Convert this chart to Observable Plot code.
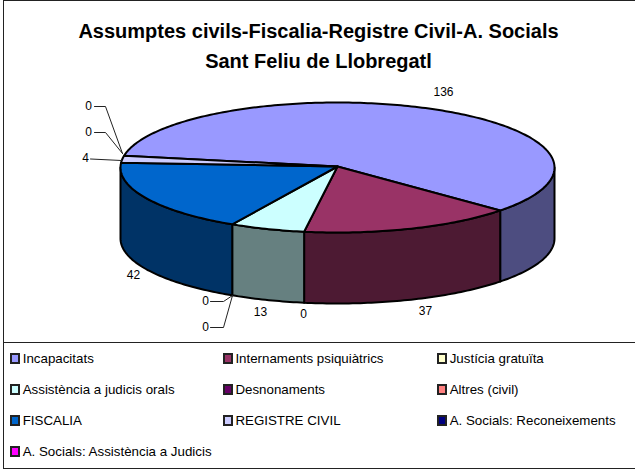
<!DOCTYPE html>
<html>
<head>
<meta charset="utf-8">
<script src="https://cdn.jsdelivr.net/npm/d3@7"></script>
<script src="https://cdn.jsdelivr.net/npm/@observablehq/plot@0.6"></script>
<style>
html,body{margin:0;padding:0;background:#fff;}
#chart{position:relative;width:635px;height:470px;overflow:hidden;font-family:"Liberation Sans",Arial,sans-serif;color:#000;}
#frame{position:absolute;left:3px;top:0;width:660px;height:467px;border:1.5px solid #222;box-sizing:content-box;}
#title{position:absolute;left:0;width:637px;top:16px;text-align:center;font-weight:bold;font-size:20px;line-height:30px;}
#plot{position:absolute;left:0;top:72px;}
#legend{position:absolute;left:3px;top:342px;width:632px;height:126px;border-top:1.5px solid #222;}
.item{position:absolute;height:14px;font-size:13.33px;line-height:14px;white-space:nowrap;}
.sw{position:absolute;box-sizing:border-box;width:10px;height:11px;border:2px solid #222;top:1px;left:0;}
.lb{position:absolute;left:12.7px;top:0;}
</style>
</head>
<body>
<div id="chart">
  <div id="frame"></div>
  <div id="title"></div>
  <div id="plot"></div>
  <div id="legend"></div>
</div>
<script>
const titleLines = ["Assumptes civils-Fiscalia-Registre Civil-A. Socials", "Sant Feliu de Llobregatl"];
const categories = ["Incapacitats","Internaments psiquiàtrics","Justícia gratuïta","Assistència a judicis orals","Desnonaments","Altres (civil)","FISCALIA","REGISTRE CIVIL","A. Socials: Reconeixements","A. Socials: Assistència a Judicis"];
const values = [136,37,0,13,0,0,42,4,0,0];
const colors = ["#9999FF","#993366","#FFFFCC","#CCFFFF","#660066","#FF8080","#0066CC","#CCCCFF","#000080","#FF00FF"];

document.getElementById("title").innerHTML = titleLines.join("<br>");

// Projection of the tilted disc
const cx = 337, cy = 167, rx = 217, ry = 65, depth = 71, startDeg = 280.4;
const rad = d => d * Math.PI / 180;
const project = (deg, drop = 0) => ({x: cx + rx * Math.sin(rad(deg)), y: cy - ry * Math.cos(rad(deg)) + drop});
const arcPts = (a0, a1, drop = 0) => {
  const n = Math.max(1, Math.ceil(Math.abs(a1 - a0)));
  return d3.range(n + 1).map(i => project(a0 + (a1 - a0) * i / n, drop));
};
const darken = c => { const r = d3.rgb(c); return d3.rgb(r.r / 2, r.g / 2, r.b / 2).formatHex(); };

const total = d3.sum(values);
let acc = startDeg;
const slices = values.map((v, i) => {
  const a0 = acc; acc += v / total * 360;
  return {name: categories[i], value: v, color: colors[i], a0, a1: acc};
});

const marks = [];
// outer walls, limited to the front half of the disc (90..270 deg clockwise from top)
for (const s of slices) {
  for (const shift of [-360, 0, 360]) {
    const a = Math.max(s.a0 + shift, 90), b = Math.min(s.a1 + shift, 270);
    if (b > a) {
      const pts = [...arcPts(a, b), ...arcPts(b, a, depth)];
      pts.push(pts[0]);
      marks.push(Plot.line(pts, {x: "x", y: "y", fill: darken(s.color), stroke: "#000", strokeWidth: 2, strokeLinejoin: "round"}));
    }
  }
}
// top faces
for (const s of slices) {
  if (s.value === 0) continue;
  const c = {x: cx, y: cy - 1};
  const pts = [c, ...arcPts(s.a0, s.a1), c];
  marks.push(Plot.line(pts, {x: "x", y: "y", fill: s.color, stroke: "#000", strokeWidth: 2, strokeLinejoin: "round"}));
}
// leader lines
const leaders = [
  [[94,106],[105,106],[122,153]],
  [[94,132],[105,132],[122,153]],
  [[90,158.5],[121,160]],
  [[210,301],[223,301],[232,295]],
  [[210,327],[223,327],[232,295]]
];
for (const l of leaders) {
  marks.push(Plot.line(l, {x: d => d[0], y: d => d[1], stroke: "#222", strokeWidth: 1}));
}
// value labels: [slice index, anchor position]
const labelSpots = [[0,443,92],[1,425,311],[2,303,314],[3,260,312],[4,205,301],[5,205,327],[6,133,275],[7,85,158],[8,88,132],[9,88,106]];
const labels = labelSpots.map(([i, x, y]) => ({x, y, t: String(values[i])}));
marks.push(Plot.text(labels, {x: "x", y: "y", text: "t", fontSize: 12, fontFamily: "Liberation Sans", fill: "#000", textAnchor: "middle", lineAnchor: "middle"}));

const chart = Plot.plot({
  width: 635, height: 270,
  marginTop: 0, marginRight: 0, marginBottom: 0, marginLeft: 0,
  x: {domain: [0, 635], range: [0, 635], axis: null},
  y: {domain: [72, 342], range: [0, 270], axis: null},
  style: {background: "transparent", overflow: "visible"},
  marks
});
document.getElementById("plot").appendChild(chart);

// legend, three columns, row by row
const legend = document.getElementById("legend");
const colX = [7, 219.7, 434], rowY = [9, 40, 71, 102];
categories.forEach((name, i) => {
  const el = document.createElement("div");
  el.className = "item";
  el.style.left = colX[i % 3] + "px";
  el.style.top = rowY[Math.floor(i / 3)] + "px";
  const sw = document.createElement("div"); sw.className = "sw"; sw.style.background = colors[i];
  const lb = document.createElement("div"); lb.className = "lb"; lb.textContent = name;
  el.append(sw, lb);
  legend.appendChild(el);
});
</script>
</body>
</html>
